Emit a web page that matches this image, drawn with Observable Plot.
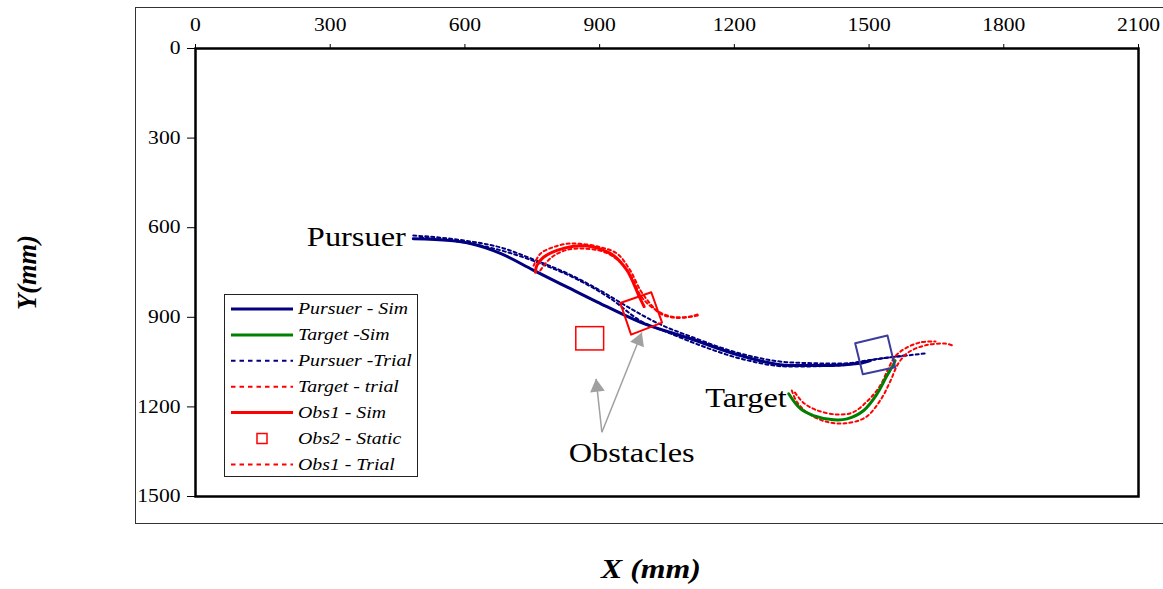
<!DOCTYPE html>
<html><head><meta charset="utf-8">
<script src="https://cdn.jsdelivr.net/npm/d3@7"></script>
<script src="https://cdn.jsdelivr.net/npm/@observablehq/plot@0.6"></script>
<style>
html,body{margin:0;padding:0;background:#fff;}
#wrap{position:relative;width:1163px;height:589px;overflow:hidden;font-family:"Liberation Serif",serif;}
#outer{position:absolute;left:135px;top:7px;width:1100px;height:517px;border:1.5px solid #333;box-sizing:border-box;}
#wrap svg.plot{position:absolute;left:0;top:0;}
#legend{position:absolute;left:224px;top:294px;}
</style></head><body><div id="wrap"><div id="outer"></div></div>
<script>
// ---- tick labels ----
const xTicks = [0,300,600,900,1200,1500,1800,2100];
const yTicks = [0,300,600,900,1200,1500];

// ---- Pursuer ----
const pursuerSimX = [485,567,612,679,752,828,895,990,1101,1213,1325,1414,1480,1503];
const pursuerSimY = [637,643,653,686,742,799,849,916,971,1028,1061,1061,1054,1045];
const pursuerTrialAX = [485,612,679,752,828,901,968,1035,1102,1213,1325,1436,1525,1625];
const pursuerTrialAY = [626,646,666,706,753,810,870,924,964,1021,1051,1055,1038,1021];
const pursuerTrialBX = [500,612,690,768,846,924,990,1057,1124,1213,1325,1436,1514,1580];
const pursuerTrialBY = [633,653,680,720,770,837,911,954,994,1038,1065,1061,1041,1028];

// ---- Target ----
const targetSimX = [1321,1347,1376,1421,1451,1488,1518,1540,1555,1558];
const targetSimY = [1156,1206,1229,1243,1240,1212,1156,1095,1056,1045];
const targetTrialAX = [1328,1340,1365,1403,1447,1492,1525,1547,1565,1587,1625,1670,1685];
const targetTrialAY = [1145,1185,1222,1249,1255,1235,1178,1115,1055,1018,994,988,994];
const targetTrialBX = [1335,1353,1380,1425,1463,1498,1525,1543,1558,1581,1614,1648];
const targetTrialBY = [1152,1185,1209,1225,1219,1178,1128,1071,1031,1004,984,981];

// ---- Obstacle 1 (moving) ----
const obs1SimX = [757,760,775,805,842,872,901,931,961,976,987,999];
const obs1SimY = [749,727,699,676,662,661,671,693,743,788,827,864];
const obs1TrialAX = [753,768,797,827,857,901,939,968,991,1013,1035,1072,1120];
const obs1TrialAY = [727,687,665,654,654,665,687,743,810,855,888,902,894];
const obs1TrialBX = [768,790,823,868,913,946,973,991,1017,1057,1102,1124];
const obs1TrialBY = [743,703,676,670,683,716,770,827,867,897,897,887];
const obs1BoxX = [946,1015,1039,970];
const obs1BoxY = [852,816,918,958];

// ---- pursuer body box ----
const pursuerBoxX = [1469,1541,1558,1486];
const pursuerBoxY = [987,961,1067,1091];

// ---- Obstacle 2 (static) ----
const obs2X = [848,910];
const obs2Y = [933,1011];

// ---- annotations ----
const annoText = ["Pursuer","Target","Obstacles"];
const annoX = [248,1135,831];
const annoY = [631,1172,1357];
const arrowFromX = [905,905];
const arrowFromY = [1285,1285];
const arrowToX = [892,994];
const arrowToY = [1106,951];

// ---- legend ----
const legendLabels = ["Pursuer - Sim","Target -Sim","Pursuer -Trial","Target - trial","Obs1 - Sim","Obs2 - Static","Obs1 - Trial"];
const legendKinds = ["solid","solid","dotted","dotted","solid","square","dotted"];
const legendSeries = ["navy","green","navy","red","red","red","red"];

const COLORS = {navy:"#000080", green:"#008000", red:"#ff0000", box:"#3c3c9c", arrow:"#a0a0a0"};

const W = 1163, H = 589, ML = 195, MR = 25, MT = 48, MB = 93;

const pts = (xs, ys) => xs.map((x, i) => ({x, y: ys[i]}));
const closed = (xs, ys) => { const r = pts(xs, ys); r.push(r[0]); return r; };

const solid = (d, c, curve = "catmull-rom") => Plot.line(d, {x:"x", y:"y", stroke:c, strokeWidth:3, curve});
const dotted = (d, c, curve = "catmull-rom") => Plot.line(d, {x:"x", y:"y", stroke:c, strokeWidth:2, strokeDasharray:"3,3", curve});

const arrows = arrowFromX.map((x, i) => ({x1:x, y1:arrowFromY[i], x2:arrowToX[i], y2:arrowToY[i]}));
const kx = (W - ML - MR) / 2100, ky = (H - MT - MB) / 1500;
const headR = 5.5;
const tipDist = 2 * Math.sqrt(Math.PI * headR * headR / (3 * Math.sqrt(3)));
const headMarks = arrows.map(a => {
  const px = (a.x2 - a.x1) * kx, py = (a.y2 - a.y1) * ky;
  const len = Math.hypot(px, py);
  const ux = px / len, uy = py / len;
  const ang = Math.atan2(ux, -uy) * 180 / Math.PI;
  return Plot.dot([a], {x:"x2", y:"y2", symbol:"triangle", r:headR, fill:COLORS.arrow, stroke:null,
    rotate: ang, dx: -ux * tipDist, dy: -uy * tipDist});
});

const annos = annoText.map((t, i) => ({t, x: annoX[i], y: annoY[i]}));

const plot = Plot.plot({
  width: W, height: H,
  marginLeft: ML, marginRight: MR, marginTop: MT, marginBottom: MB,
  style: {fontFamily: '"Liberation Serif", serif', background: "transparent", color: "black"},
  x: {domain: [0, 2100]},
  y: {domain: [0, 1500], reverse: true},
  marks: [
    Plot.axisX({ticks: xTicks, anchor: "top", tickSize: 5, tickPadding: 13, fontSize: 18, label: null, tickFormat: d => String(d)}),
    Plot.axisY({ticks: yTicks, anchor: "left", tickSize: 8, tickPadding: 7, fontSize: 18, label: null, tickFormat: d => String(d)}),
    dotted(pts(pursuerTrialAX, pursuerTrialAY), COLORS.navy, "monotone-x"),
    dotted(pts(pursuerTrialBX, pursuerTrialBY), COLORS.navy, "monotone-x"),
    dotted(pts(targetTrialAX, targetTrialAY), COLORS.red),
    dotted(pts(targetTrialBX, targetTrialBY), COLORS.red),
    dotted(pts(obs1TrialAX, obs1TrialAY), COLORS.red),
    dotted(pts(obs1TrialBX, obs1TrialBY), COLORS.red),
    solid(pts(pursuerSimX, pursuerSimY), COLORS.navy, "monotone-x"),
    solid(pts(targetSimX, targetSimY), COLORS.green),
    solid(pts(obs1SimX, obs1SimY), COLORS.red),
    Plot.line(closed(obs1BoxX, obs1BoxY), {x:"x", y:"y", stroke:COLORS.red, strokeWidth:2}),
    Plot.line(closed(pursuerBoxX, pursuerBoxY), {x:"x", y:"y", stroke:COLORS.box, strokeWidth:2}),
    Plot.rect([{x1: obs2X[0], x2: obs2X[1], y1: obs2Y[0], y2: obs2Y[1]}], {x1:"x1", x2:"x2", y1:"y1", y2:"y2", fill:"none", stroke:COLORS.red, strokeWidth:1.5}),
    Plot.link(arrows, {x1:"x1", y1:"y1", x2:"x2", y2:"y2", stroke:COLORS.arrow, strokeWidth:1.5}),
    ...headMarks,
    Plot.text(annos, {x:"x", y:"y", text:"t", textAnchor:"start", lineAnchor:"middle", fontSize:27, fill:"black"}),
    Plot.text(["X (mm)"], {frameAnchor:"bottom", text: d => d, textAnchor:"middle", lineAnchor:"middle", dx:-16, dy:73, fontSize:26.5, fontWeight:"bold", fontStyle:"italic", fill:"black"}),
    Plot.text(["Y(mm)"], {frameAnchor:"left", text: d => d, textAnchor:"middle", lineAnchor:"middle", dx:-168, dy:0, rotate:-90, fontSize:26.5, fontWeight:"bold", fontStyle:"italic", fill:"black"}),
    Plot.frame({stroke:"black", strokeWidth:2.5})
  ]
});
plot.classList.add("plot");
const wrap = document.getElementById("wrap");
wrap.appendChild(plot);

// ---- legend ----
const LW = 194, LH = 183;
const lg = d3.select(wrap).append("svg").attr("id","legend").attr("width", LW).attr("height", LH)
  .style("font-family", '"Liberation Serif", serif');
lg.append("rect").attr("x",0.5).attr("y",0.5).attr("width",LW-1).attr("height",LH-1).attr("fill","#fff").attr("stroke","#222").attr("stroke-width",1);
legendLabels.forEach((lab, i) => {
  const cy = 15 + i * 25.9;
  const c = COLORS[legendSeries[i]];
  const k = legendKinds[i];
  if (k === "square") {
    lg.append("rect").attr("x",33).attr("y",cy-5).attr("width",10).attr("height",10).attr("fill","none").attr("stroke",c).attr("stroke-width",1.5);
  } else {
    lg.append("line").attr("x1",7).attr("x2",69).attr("y1",cy).attr("y2",cy).attr("stroke",c)
      .attr("stroke-width", k === "solid" ? 3 : 2).attr("stroke-dasharray", k === "solid" ? null : "4.5,4");
  }
  lg.append("text").attr("x",74).attr("y",cy).attr("dy","0.32em").attr("font-size",16.5).attr("font-style","italic").attr("fill","black").text(lab);
});

// horizontal stretch of text to match the reference's proportions
function stretch(root, f) {
  root.querySelectorAll("text").forEach(t => {
    const tr = (t.getAttribute("transform") || "") + ((t.parentNode.getAttribute && t.parentNode.getAttribute("transform")) || "");
    if (tr.includes("rotate")) return;
    const len = t.getComputedTextLength();
    if (len > 0) { t.setAttribute("textLength", len * f); t.setAttribute("lengthAdjust", "spacingAndGlyphs"); }
  });
}
stretch(plot, 1.2);
stretch(document.getElementById("legend"), 1.2);
</script>
</body></html>
